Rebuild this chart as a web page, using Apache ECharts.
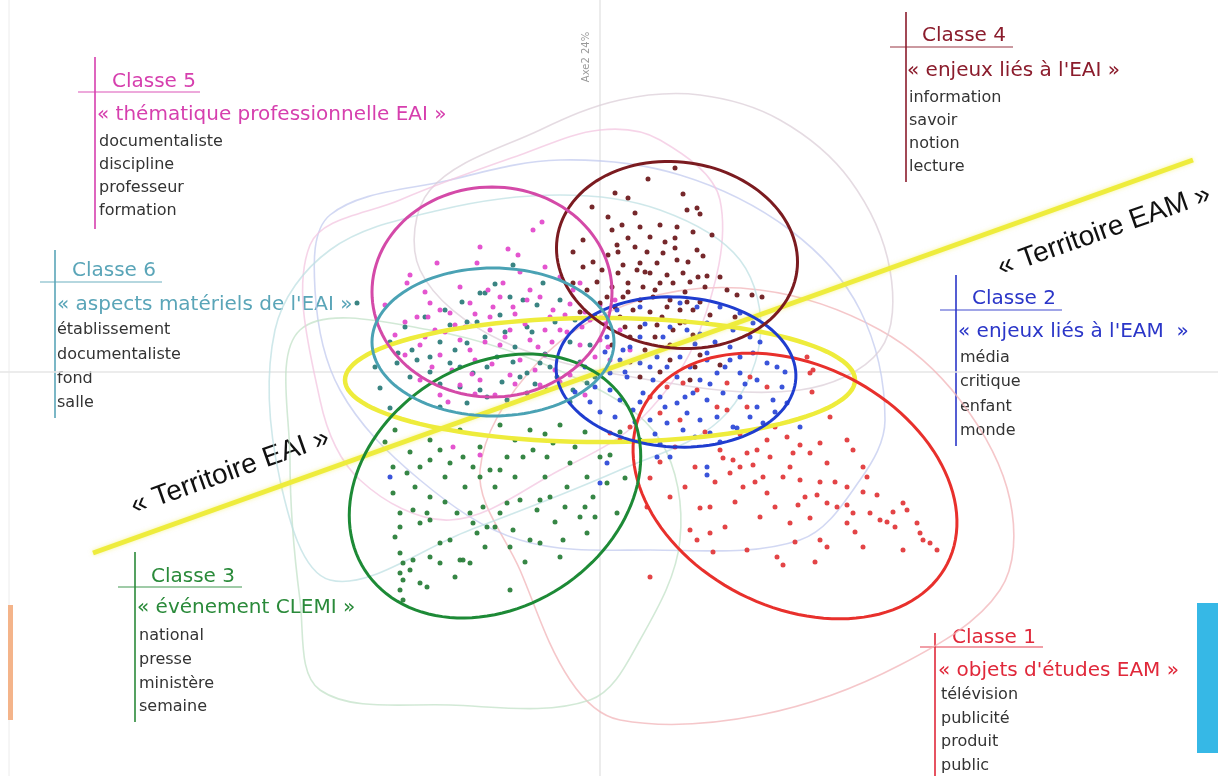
<!DOCTYPE html>
<html>
<head>
<meta charset="utf-8">
<script src="https://cdn.jsdelivr.net/npm/echarts@6/dist/echarts.min.js"></script>
<style>
  html, body { margin: 0; padding: 0; background: #fff; }
  #chart { width: 1218px; height: 776px; }
</style>
</head>
<body>
<div id="chart"></div>
<script>
// classes (index 0 = Classe 1 ... 5 = Classe 6)
const classNames = ["Classe 1", "Classe 2", "Classe 3", "Classe 4", "Classe 5", "Classe 6"]
const classThemes = [
  "« objets d'études EAM »",
  "« enjeux liés à l'EAM  »",
  "« événement CLEMI »",
  "« enjeux liés à l'EAI »",
  "« thématique professionnelle EAI »",
  "« aspects matériels de l'EAI »"
]
const classWords = [
  ["télévision", "publicité", "produit", "public"],
  ["média", "critique", "enfant", "monde"],
  ["national", "presse", "ministère", "semaine"],
  ["information", "savoir", "notion", "lecture"],
  ["documentaliste", "discipline", "professeur", "formation"],
  ["établissement", "documentaliste", "fond", "salle"]
]
const territoryNames = ["« Territoire EAI »", "« Territoire EAM »"]
const axisName = "Axe2 24%"

// factor coordinates of the text segments, per class
const class1Points = [
  [2.10,-0.01],[2.12,-0.20],[1.87,-0.65],[2.00,-0.73],[2.20,-0.71],[2.47,-0.68],[2.53,-0.78],[1.67,-0.68],
  [1.57,-0.78],[1.47,-0.81],[1.33,-0.88],[1.20,-0.78],[1.23,-0.86],[1.40,-0.95],[1.53,-0.93],[1.70,-0.85],
  [1.93,-0.81],[2.10,-0.81],[2.27,-0.91],[1.90,-0.95],[1.63,-1.05],[1.30,-1.01],[1.43,-1.15],[1.67,-1.21],
  [1.83,-1.05],[2.00,-1.08],[2.20,-1.10],[2.47,-1.15],[2.63,-0.95],[2.67,-1.05],[2.63,-1.20],[2.77,-1.23],
  [2.17,-1.23],[2.27,-1.31],[2.37,-1.35],[2.47,-1.33],[2.53,-1.41],[1.98,-1.33],[2.10,-1.46],[1.90,-1.51],
  [1.60,-1.45],[1.00,-1.36],[1.10,-1.35],[0.70,-1.25],[0.50,-1.06],[0.47,-1.35],[0.90,-1.58],[0.97,-1.68],
  [1.10,-1.61],[1.13,-1.80],[1.47,-1.78],[1.77,-1.85],[1.83,-1.93],[2.15,-1.90],[2.20,-1.68],[2.27,-1.75],
  [2.47,-1.51],[2.63,-1.75],[2.70,-1.41],[2.80,-1.48],[2.87,-1.50],[2.93,-1.40],[3.03,-1.31],[3.07,-1.38],
  [3.17,-1.51],[3.20,-1.61],[3.23,-1.68],[3.30,-1.71],[3.37,-1.78],[3.03,-1.78],[0.50,-2.05],[1.27,-0.11],
  [1.50,-0.05],[1.67,-0.15],[1.17,-0.35],[1.27,-0.38],[1.47,-0.35],[0.97,-0.18],[0.83,-0.11],[0.67,-0.15],
  [0.50,-0.25],[0.60,-0.41],[0.80,-0.48],[0.30,-0.55],[0.20,-0.68],[0.10,-0.61],[2.07,0.15],[2.13,0.02],
  [0.75,-0.75],[0.95,-0.95],[1.15,-1.10],[1.35,-1.30],[1.55,-1.10],[1.75,-1.35],[2.35,-1.10],[2.05,-1.25],
  [1.40,-0.62],[1.75,-0.55],[2.30,-0.45],[0.85,-1.15],[1.25,-1.55],[2.95,-1.55],[2.55,-1.60],[1.95,-1.70],
  [0.60,-0.90],[1.05,-0.60]
]
const class2Points = [
  [1.53,0.19],[1.77,0.05],[1.82,-0.15],[1.57,-0.08],[1.40,-0.01],[1.30,0.12],[1.17,-0.01],[1.07,0.12],
  [1.00,-0.08],[0.93,-0.21],[1.07,-0.28],[1.23,-0.21],[1.40,-0.25],[1.57,-0.35],[1.73,-0.28],[1.87,-0.31],
  [0.77,-0.05],[0.67,0.05],[0.53,-0.08],[0.43,-0.21],[0.60,-0.25],[0.77,-0.31],[0.87,-0.41],[1.00,-0.48],
  [1.17,-0.45],[1.33,-0.55],[1.50,-0.45],[1.63,-0.51],[0.67,-0.51],[0.50,-0.48],[0.33,-0.38],[0.20,-0.28],
  [0.10,-0.18],[0.27,-0.05],[0.40,0.09],[0.20,0.12],[0.10,-0.01],[0.83,-0.58],[1.10,-0.61],[1.37,-0.56],
  [2.00,-0.55],[1.07,-0.95],[1.07,-1.03],[0.70,-0.85],[0.07,-0.91],[0.57,-0.85],[0.17,0.62],[0.40,0.65],
  [0.80,0.69],[0.97,0.65],[1.20,0.65],[1.40,0.59],[1.53,0.49],[1.33,0.42],[1.07,0.49],[0.87,0.42],
  [0.63,0.35],[0.40,0.35],[0.23,0.22],[0.07,0.35],[1.67,0.09],[1.40,0.15],[1.07,0.19],[0.80,0.15],
  [0.57,0.15],[-0.25,-0.20],[-0.10,-0.30],[0.00,-0.40],[-0.05,-0.15],[-2.10,-1.05],[0.00,-1.11],
  [0.30,0.25],[0.50,0.05],[0.65,-0.35],[0.90,0.05],[1.15,0.30],[1.25,0.05],[1.45,-0.12],[1.60,0.30],
  [1.75,-0.40],[0.35,-0.50],[0.55,-0.62],[0.95,-0.65],[1.20,-0.70],[0.85,-0.25],[1.10,-0.12],[0.40,-0.30],
  [0.25,0.00],[0.70,0.45],[1.00,0.38],[1.30,0.25],[0.15,-0.45],[0.60,-0.72],[0.95,0.28],[1.85,0.00],
  [1.50,0.35],[0.45,0.48],[-0.15,0.05],[0.05,0.20]
]
const class3Points = [
  [-2.07,-0.95],[-1.93,-1.01],[-1.80,-0.95],[-1.70,-0.88],[-1.60,-0.78],[-1.50,-0.91],[-1.37,-0.85],[-1.27,-0.95],
  [-1.20,-1.05],[-1.10,-0.98],[-1.00,-0.98],[-0.93,-0.85],[-0.77,-0.85],[-0.67,-0.78],[-0.53,-0.85],[-0.47,-0.71],
  [-0.30,-0.91],[-0.13,-1.05],[0.07,-1.11],[0.17,-1.41],[-0.07,-1.25],[-0.20,-1.45],[-0.33,-1.15],[-0.50,-1.25],
  [-0.60,-1.28],[-0.63,-1.38],[-0.80,-1.28],[-0.93,-1.31],[-1.00,-1.41],[-1.17,-1.35],[-1.30,-1.41],[-1.43,-1.41],
  [-1.70,-1.25],[-1.73,-1.41],[-1.87,-1.38],[-2.00,-1.41],[-2.07,-1.21],[-2.00,-1.55],[-1.80,-1.51],[-1.70,-1.48],
  [-1.60,-1.71],[-1.50,-1.68],[-1.37,-1.88],[-1.27,-1.51],[-1.23,-1.61],[-1.13,-1.55],[-0.87,-1.58],[-0.70,-1.68],
  [-0.60,-1.71],[-0.37,-1.68],[-0.13,-1.61],[-0.90,-1.75],[-2.00,-1.81],[-1.97,-1.91],[-2.00,-2.01],[-1.97,-2.08],
  [-1.87,-1.88],[-1.80,-2.11],[-1.73,-2.15],[-2.00,-2.18],[-1.97,-2.28],[-1.70,-1.85],[-1.60,-1.91],[-1.40,-1.88],
  [-1.30,-1.91],[-0.90,-2.18],[0.20,-0.60],[0.40,-0.68],[0.10,-0.83],[0.25,-1.06],[-2.15,-0.70],[-2.05,-0.58],
  [-1.00,-0.53],[-0.70,-0.58],[-0.40,-0.53],[-0.15,-0.60],[-1.40,-0.58],[-1.70,-0.68],
  [-1.90,-0.80],[-1.55,-1.05],[-1.35,-1.15],[-1.05,-1.15],[-0.85,-1.05],[-0.55,-1.05],[-0.35,-1.35],[-0.15,-1.35],
  [-0.45,-1.50],[-1.05,-1.55],[-1.55,-1.30],[-1.85,-1.15],[-1.20,-0.75],[-0.85,-0.68],[-0.55,-0.62],[-0.25,-0.75],
  [0.00,-0.85],[-1.45,-2.05],[-1.15,-1.75],[-0.75,-1.90],[-2.05,-1.65],[-1.90,-1.98],[-0.40,-1.85],[-0.05,-1.45]
]
const class4Points = [
  [0.75,2.04],[0.48,1.93],[0.15,1.79],[0.28,1.74],[0.83,1.78],[-0.08,1.65],[0.08,1.55],[0.35,1.59],
  [0.87,1.62],[0.97,1.64],[1.00,1.58],[0.22,1.47],[0.12,1.42],[0.40,1.45],[0.60,1.47],[0.77,1.45],
  [0.93,1.40],[1.12,1.37],[-0.17,1.32],[0.28,1.34],[0.50,1.35],[0.75,1.34],[-0.27,1.20],[0.17,1.27],
  [0.47,1.20],[0.63,1.19],[0.75,1.24],[0.97,1.22],[1.03,1.16],[-0.07,1.10],[0.08,1.17],[0.23,1.07],
  [0.40,1.09],[0.57,1.09],[0.77,1.12],[-0.17,1.05],[0.02,1.02],[0.18,0.99],[0.37,1.02],[0.50,0.99],
  [0.67,0.97],[0.83,0.99],[0.98,0.95],[1.07,0.96],[-0.27,0.89],[-0.03,0.90],[0.12,0.85],[0.28,0.89],
  [0.43,0.85],[0.60,0.89],[0.73,0.89],[0.90,0.90],[1.27,0.82],[1.37,0.77],[1.52,0.77],[1.62,0.75],
  [0.07,0.75],[0.23,0.75],[0.40,0.72],[0.53,0.75],[0.70,0.72],[0.87,0.70],[0.33,0.62],[0.50,0.60],
  [0.67,0.65],[0.80,0.62],[0.93,0.62],[1.10,0.57],[0.40,0.45],[0.57,0.47],[0.73,0.42],[0.80,0.49],
  [0.93,0.37],[0.20,0.55],[0.00,0.69],[-0.13,0.82],[0.12,0.27],[0.45,0.22],[0.70,0.27],[1.00,0.17],
  [0.30,0.10],[0.60,0.00],[0.90,-0.08],[1.20,0.07],
  [0.15,0.65],[0.28,0.80],[0.55,0.82],[0.62,0.55],[0.85,0.80],[1.00,0.70],[0.30,0.35],[0.55,0.35],
  [0.85,0.50],[1.05,0.85],[0.18,1.20],[0.35,1.25],[0.65,1.30],[0.88,1.10],[-0.05,0.55],[0.45,1.00],
  [0.25,0.45],[0.70,0.12],[0.95,0.05],[0.40,-0.05],[1.35,0.55],[1.20,0.95],[-0.20,0.60]
]
const class5Points = [
  [-0.58,1.50],[-0.67,1.42],[-1.20,1.25],[-0.92,1.23],[-0.82,1.17],[-1.63,1.09],[-1.23,1.09],[-1.90,0.97],
  [-1.93,0.89],[-1.70,0.69],[-1.83,0.55],[-1.72,0.55],[-1.95,0.50],[-1.50,0.59],[-1.30,0.69],[-1.12,0.82],
  [-0.97,0.89],[-1.00,0.75],[-0.70,0.82],[-0.73,0.72],[-0.60,0.75],[-1.07,0.65],[-1.10,0.55],[-0.87,0.65],
  [-0.47,0.62],[-0.27,0.82],[-0.20,0.89],[-1.80,0.27],[-1.60,0.17],[-1.40,0.32],[-1.25,0.12],[-1.00,0.27],
  [-0.90,0.42],[-0.70,0.32],[-0.55,0.17],[-0.40,0.42],[-0.20,0.27],[-0.10,0.52],[0.00,0.32],[0.10,0.12],
  [-1.20,-0.08],[-0.90,-0.03],[-0.60,-0.13],[-1.40,-0.13],[-1.80,-0.08],[-1.60,-0.23],[-0.30,-0.03],[0.20,0.42],
  [0.30,0.22],[-0.80,0.12],[-1.95,0.17],[-2.05,0.37],[-1.45,0.47],[-1.10,0.42],[-0.35,0.57],[0.00,0.67],
  [0.15,0.72],[-2.15,0.67],[-1.30,0.22],[-0.45,0.02],[-0.15,-0.23],[-1.05,-0.23],[-1.65,0.42],[-0.55,0.42],
  [-1.47,-0.75],[-1.20,-0.83],
  [-1.75,0.35],[-1.55,0.40],[-1.35,0.45],[-1.15,0.30],[-0.95,0.35],[-0.75,0.48],[-0.62,0.25],[-0.48,0.30],
  [-0.33,0.40],[-0.18,0.45],[-0.05,0.15],[0.08,0.25],[-1.68,0.05],[-1.48,0.02],[-1.28,-0.02],[-1.08,0.08],
  [-0.85,-0.12],[-0.65,0.02],[-0.40,-0.10],[-0.22,0.08],[-1.52,-0.30],[-1.25,-0.22],[-0.72,-0.25],[-0.50,0.55],
  [-0.85,0.58],[-1.25,0.58],[-1.60,0.62],[-0.30,0.68],[-0.15,0.60],[0.05,0.48],[-0.40,0.95],[-0.80,1.00],
  [-1.40,0.85],[-1.75,0.80],[-0.55,1.05]
]
const class6Points = [
  [-0.87,1.07],[-1.20,0.79],[-1.15,0.79],[-1.33,0.50],[-1.23,0.50],[-0.77,0.72],[-0.63,0.67],[-0.57,0.89],
  [-0.73,0.45],[-0.95,0.40],[-0.68,0.40],[-1.45,0.22],[-1.60,0.30],[-1.33,0.29],[-1.88,0.22],[-2.02,0.19],
  [-2.03,0.09],[-1.70,0.15],[-2.43,0.69],[-2.20,-0.16],[-2.10,-0.36],[-1.83,0.12],[-1.70,0.00],[-1.50,0.09],
  [-1.27,-0.01],[-1.13,0.05],[-1.03,0.15],[-0.87,0.10],[-0.73,-0.01],[-0.60,0.09],[-0.43,-0.05],[-0.27,-0.18],
  [-0.13,-0.11],[-0.53,-0.18],[-0.73,-0.21],[-0.93,-0.28],[-1.13,-0.25],[-1.33,-0.31],[-1.60,-0.35],[-0.40,0.72],
  [-0.25,0.52],[-0.10,0.27],[-1.00,0.57],[-1.50,0.47],
  [-1.95,0.45],[-1.75,0.55],[-1.55,0.62],[-1.38,0.70],[-1.05,0.88],[-0.90,0.75],[-0.45,0.50],[-0.30,0.30],
  [-0.20,0.10],[-1.90,-0.05],[-1.60,-0.12],[-1.40,-0.15],[-1.20,-0.18],[-0.98,-0.10],[-0.80,-0.05],[-0.65,-0.12],
  [-0.50,0.05],[-2.10,0.30],[-1.15,0.35],[-0.85,0.25],[-0.55,0.18],[-1.40,0.05],[-0.30,-0.30],[-0.05,-0.05],
  [-2.25,0.05]
]
const classPoints = [class1Points, class2Points, class3Points, class4Points, class5Points, class6Points]

// confidence ellipses: [centre x, centre y, semi-axis a, semi-axis b, angle in degrees]
const classEllipses = [
  [1.95, -1.14, 1.71, 1.21, -27],
  [0.76, 0.00, 1.20, 0.75, -3],
  [-1.05, -1.14, 1.55, 1.21, 33],
  [0.77, 1.17, 1.21, 0.93, -8],
  [-1.08, 0.80, 1.20, 1.05, 0],
  [-1.07, 0.30, 1.21, 0.74, 0]
]
const territoryEllipse = [0.00, -0.08, 2.55, 0.62, 0]
const territoryLine = [[-5.07, -1.81], [5.93, 2.12]]

// class envelopes (faint outlines)
const class1Hull = [[-1.20,-0.98],[-0.80,-1.98],[-0.30,-3.08],[0.20,-3.48],[1.60,-3.43],[3.00,-2.93],[4.00,-2.18],[4.10,-1.28],[3.60,-0.28],[2.80,0.42],[1.60,0.82],[0.40,0.72],[-0.60,0.12]]
const class2Hull = [[-2.70,1.57],[-1.50,1.92],[-0.40,2.12],[0.80,1.97],[1.90,1.42],[2.60,0.62],[2.85,-0.48],[2.60,-1.08],[2.00,-1.68],[0.50,-1.78],[-0.80,-1.68],[-1.80,-1.08],[-2.60,-0.18],[-2.85,0.82]]
const class3Hull = [[-3.00,0.42],[-3.10,-0.88],[-3.00,-2.28],[-2.80,-3.18],[-1.50,-3.33],[-0.10,-3.28],[0.40,-2.68],[0.80,-1.68],[0.60,-0.68],[-0.20,-0.08],[-1.70,0.42]]
const class4Hull = [[-1.70,1.82],[-0.60,2.42],[0.20,2.72],[1.00,2.77],[1.80,2.52],[2.50,1.92],[2.90,1.02],[2.80,0.22],[2.00,-0.18],[0.50,-0.08],[-1.00,0.32],[-1.80,1.02]]
const class5Hull = [[-2.90,1.27],[-2.00,1.72],[-0.80,2.17],[0.00,2.42],[0.60,2.32],[1.20,1.72],[1.00,0.42],[0.40,-0.48],[-0.40,-0.98],[-1.50,-1.48],[-2.40,-1.08],[-2.80,-0.28]]
const class6Hull = [[-3.25,0.42],[-2.70,1.22],[-1.60,1.62],[-0.40,1.77],[0.60,1.62],[1.40,1.12],[1.60,0.32],[1.20,-0.48],[0.20,-0.98],[-1.30,-1.58],[-2.70,-2.08],[-3.20,-1.08]]
const classHulls = [class1Hull, class2Hull, class3Hull, class4Hull, class5Hull, class6Hull]

// styles
const pointColors = ["#e23a3c", "#2f4bd8", "#2b7f3b", "#6f1c20", "#e34ccc", "#2f7d7b"]
const ellipseColors = ["#e8302c", "#1f3dcf", "#1d8a36", "#7b1b20", "#d44aa8", "#4aa2b4"]
const hullColors = ["#f2b4b8", "#c3cbef", "#c3e2c8", "#dccfd8", "#f3c5e0", "#bfe0e3"]
const titleColors = ["#e0283a", "#2b36c8", "#2a8a3a", "#8b1c2c", "#d63fae", "#5aa5b8"]
const territoryColor = "#eeec3c"

// annotation layout in pixels
const annLayout = [
  { vx: 935, vTop: 633, vBot: 776, hlY: 647, hlX1: 920, hlX2: 1043, tx: 952, ty: 638, sx: 938, sy: 671, wx: 941, wy: 695, step: 23.5 },
  { vx: 956, vTop: 275, vBot: 446, hlY: 310, hlX1: 940, hlX2: 1062, tx: 972, ty: 299, sx: 958, sy: 332, wx: 960, wy: 358, step: 24.2 },
  { vx: 135, vTop: 552, vBot: 722, hlY: 587, hlX1: 118, hlX2: 242, tx: 151, ty: 577, sx: 137, sy: 608, wx: 139, wy: 636, step: 23.7 },
  { vx: 906, vTop: 12, vBot: 182, hlY: 47, hlX1: 890, hlX2: 1013, tx: 922, ty: 36, sx: 907, sy: 71, wx: 909, wy: 98, step: 23 },
  { vx: 95, vTop: 57, vBot: 229, hlY: 92, hlX1: 78, hlX2: 200, tx: 112, ty: 82, sx: 97, sy: 115, wx: 99, wy: 142, step: 22.8 },
  { vx: 55, vTop: 250, vBot: 418, hlY: 282, hlX1: 40, hlX2: 162, tx: 72, ty: 271, sx: 57, sy: 305, wx: 57, wy: 330, step: 24.4 }
]

const chart = echarts.init(document.getElementById("chart"))

const ellipsePoints = (e, api) => {
  const [cx, cy, a, b, deg] = e
  const ang = deg * Math.PI / 180
  const pts = []
  for (let k = 0; k < 120; k++) {
    const t = k / 120 * Math.PI * 2
    const ex = a * Math.cos(t), ey = b * Math.sin(t)
    pts.push(api.coord([cx + ex * Math.cos(ang) - ey * Math.sin(ang), cy + ex * Math.sin(ang) + ey * Math.cos(ang)]))
  }
  return pts
}

const graphics = []
annLayout.forEach((L, i) => {
  const c = titleColors[i]
  graphics.push({ type: "line", shape: { x1: L.vx, y1: L.vTop, x2: L.vx, y2: L.vBot }, style: { stroke: c, lineWidth: 2, opacity: 0.8 } })
  graphics.push({ type: "line", shape: { x1: L.hlX1, y1: L.hlY, x2: L.hlX2, y2: L.hlY }, style: { stroke: c, lineWidth: 1.3, opacity: 0.6 } })
  graphics.push({ type: "text", x: L.tx, y: L.ty, style: { text: classNames[i], fill: c, font: '20px "DejaVu Sans"', align: "left", verticalAlign: "middle" } })
  graphics.push({ type: "text", x: L.sx, y: L.sy, style: { text: classThemes[i], fill: c, font: '20px "DejaVu Sans"', align: "left", verticalAlign: "middle" } })
  classWords[i].forEach((w, j) => {
    graphics.push({ type: "text", x: L.wx, y: L.wy + j * L.step, style: { text: w, fill: "#333", font: '16px "DejaVu Sans"', align: "left", verticalAlign: "middle" } })
  })
})
const tilt = Math.atan(0.355)
graphics.push({ type: "text", x: 230, y: 472, rotation: tilt, style: { text: territoryNames[0], fill: "#111", font: '28px "Liberation Sans"', align: "center", verticalAlign: "middle" } })
graphics.push({ type: "text", x: 1104, y: 231, rotation: tilt, style: { text: territoryNames[1], fill: "#111", font: '28px "Liberation Sans"', align: "center", verticalAlign: "middle" } })
graphics.push({ type: "text", x: 586, y: 57, rotation: Math.PI / 2, style: { text: axisName, fill: "#999", font: '10px "DejaVu Sans"', align: "center", verticalAlign: "middle" } })
// slide edges
graphics.push({ type: "line", shape: { x1: 9, y1: 0, x2: 9, y2: 776 }, style: { stroke: "#ececec", lineWidth: 1 } })
graphics.push({ type: "rect", shape: { x: 8, y: 605, width: 5, height: 115 }, style: { fill: "#f4b48a" } })
graphics.push({ type: "rect", shape: { x: 1197, y: 603, width: 21, height: 150 }, style: { fill: "#36b8e6" } })

const series = []

series.push({
  type: "custom",
  name: "enveloppes",
  z: 1,
  silent: true,
  renderItem: (params, api) => ({
    type: "polygon",
    shape: { points: classHulls[params.dataIndex].map(p => api.coord(p)), smooth: 0.35 },
    style: { fill: "none", stroke: hullColors[params.dataIndex], lineWidth: 1.6, opacity: 0.75 }
  }),
  data: classHulls.map((h, i) => [h[0][0], h[0][1], i])
})

const drawOrder = [5, 4, 2, 3, 0, 1]
drawOrder.forEach(i => {
  series.push({
    type: "scatter",
    name: classNames[i],
    z: 2,
    symbolSize: 5,
    itemStyle: { color: pointColors[i], opacity: 0.95 },
    data: classPoints[i]
  })
})

series.push({
  type: "line",
  name: "territoire",
  z: 3,
  silent: true,
  showSymbol: false,
  lineStyle: { color: territoryColor, width: 5, shadowColor: "rgba(240,236,60,0.5)", shadowBlur: 4 },
  data: territoryLine
})

series.push({
  type: "custom",
  name: "ellipse territoire",
  z: 3,
  silent: true,
  renderItem: (params, api) => ({
    type: "polygon",
    shape: { points: ellipsePoints(territoryEllipse, api) },
    style: { fill: "none", stroke: territoryColor, lineWidth: 4.5 }
  }),
  data: [territoryEllipse]
})

series.push({
  type: "custom",
  name: "ellipses",
  z: 4,
  silent: true,
  renderItem: (params, api) => ({
    type: "polygon",
    shape: { points: ellipsePoints(classEllipses[params.dataIndex], api) },
    style: { fill: "none", stroke: ellipseColors[params.dataIndex], lineWidth: 3 }
  }),
  data: classEllipses
})

chart.setOption({
  animation: false,
  backgroundColor: "#fff",
  grid: { left: 0, right: 0, top: 0, bottom: 0 },
  xAxis: {
    type: "value", min: -6, max: 6.18,
    axisLine: { show: true, onZero: true, lineStyle: { color: "#e6e6e6", width: 1.5 } },
    axisTick: { show: false }, axisLabel: { show: false }, splitLine: { show: false }
  },
  yAxis: {
    type: "value", min: -4.04, max: 3.72,
    axisLine: { show: true, onZero: true, lineStyle: { color: "#e6e6e6", width: 1.5 } },
    axisTick: { show: false }, axisLabel: { show: false }, splitLine: { show: false }
  },
  graphic: { elements: graphics },
  series
})

window.addEventListener("resize", () => {
  chart.resize()
})
</script>
</body>
</html>
